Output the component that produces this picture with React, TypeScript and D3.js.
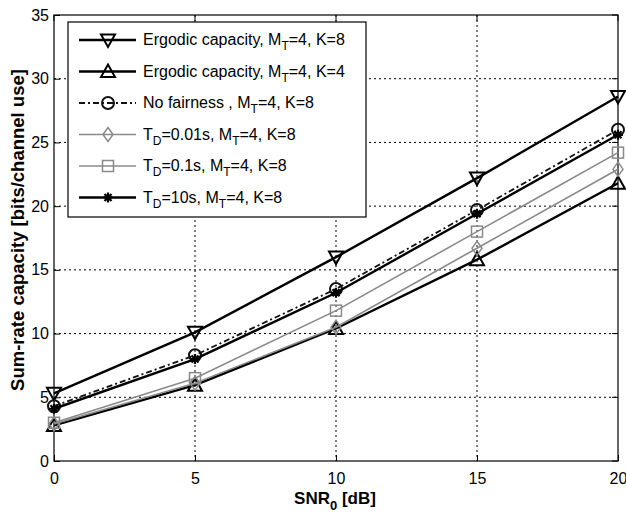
import React, { useEffect, useRef } from 'react';
import * as d3 from 'd3';

const snr = [0, 5, 10, 15, 20];
const ergodicK8 = [5.3, 10.1, 16.0, 22.2, 28.6];
const ergodicK4 = [2.8, 5.95, 10.4, 15.8, 21.8];
const noFairness = [4.3, 8.3, 13.5, 19.7, 26.0];
const td001 = [2.9, 6.1, 10.5, 16.7, 22.9];
const td01 = [3.0, 6.5, 11.8, 18.0, 24.2];
const td10 = [4.1, 8.0, 13.2, 19.4, 25.6];

const xTicks = [0, 5, 10, 15, 20];
const yTicks = [0, 5, 10, 15, 20, 25, 30, 35];

type Series = {
  name: string;
  sub?: string;
  rest: string;
  values: number[];
  color: string;
  width: number;
  dash: string | null;
  marker: string;
};

const series: Series[] = [
  { name: 'Ergodic capacity, M', sub: 'T', rest: '=4, K=8', values: ergodicK8, color: '#000', width: 2.4, dash: null, marker: 'down' },
  { name: 'Ergodic capacity, M', sub: 'T', rest: '=4, K=4', values: ergodicK4, color: '#000', width: 2.4, dash: null, marker: 'up' },
  { name: 'No fairness , M', sub: 'T', rest: '=4, K=8', values: noFairness, color: '#111', width: 1.8, dash: '6,3,2,3', marker: 'circle' },
  { name: 'T', sub: 'D', rest: '=0.01s, M|T|=4, K=8', values: td001, color: '#8a8a8a', width: 1.6, dash: null, marker: 'diamond' },
  { name: 'T', sub: 'D', rest: '=0.1s, M|T|=4, K=8', values: td01, color: '#8a8a8a', width: 1.6, dash: null, marker: 'square' },
  { name: 'T', sub: 'D', rest: '=10s, M|T|=4, K=8', values: td10, color: '#000', width: 2.4, dash: null, marker: 'star' },
];

function drawMarker(g: any, kind: string, x: number, y: number, color: string) {
  const s = 7;
  if (kind === 'down') {
    g.append('path').attr('d', `M${x - s},${y - s * 0.8}L${x + s},${y - s * 0.8}L${x},${y + s}Z`)
      .attr('fill', 'none').attr('stroke', color).attr('stroke-width', 2);
  } else if (kind === 'up') {
    g.append('path').attr('d', `M${x - s},${y + s * 0.8}L${x + s},${y + s * 0.8}L${x},${y - s}Z`)
      .attr('fill', 'none').attr('stroke', color).attr('stroke-width', 2);
  } else if (kind === 'circle') {
    g.append('circle').attr('cx', x).attr('cy', y).attr('r', 6)
      .attr('fill', 'none').attr('stroke', color).attr('stroke-width', 2);
  } else if (kind === 'diamond') {
    g.append('path').attr('d', `M${x},${y - s}L${x + 5},${y}L${x},${y + s}L${x - 5},${y}Z`)
      .attr('fill', 'none').attr('stroke', color).attr('stroke-width', 1.5);
  } else if (kind === 'square') {
    g.append('rect').attr('x', x - 5.5).attr('y', y - 5.5).attr('width', 11).attr('height', 11)
      .attr('fill', 'none').attr('stroke', color).attr('stroke-width', 1.5);
  } else if (kind === 'star') {
    const r = 5;
    const p = d3.path();
    p.moveTo(x - r, y); p.lineTo(x + r, y);
    p.moveTo(x, y - r); p.lineTo(x, y + r);
    p.moveTo(x - r * 0.7, y - r * 0.7); p.lineTo(x + r * 0.7, y + r * 0.7);
    p.moveTo(x - r * 0.7, y + r * 0.7); p.lineTo(x + r * 0.7, y - r * 0.7);
    g.append('path').attr('d', p.toString()).attr('stroke', color).attr('stroke-width', 2.2).attr('fill', 'none');
  }
}

function Chart({ width = 626, height = 513 }) {
  const ref = useRef<SVGSVGElement>(null);

  useEffect(() => {
    const svg = d3.select(ref.current);
    svg.selectAll('*').remove();

    const margin = { top: 15, right: 8, bottom: 52, left: 54 };
    const w = width - margin.left - margin.right;
    const h = height - margin.top - margin.bottom;

    const x = d3.scaleLinear().domain([0, 20]).range([0, w]);
    const y = d3.scaleLinear().domain([0, 35]).range([h, 0]);

    svg.append('rect').attr('width', width).attr('height', height).attr('fill', '#fff');

    const g = svg.append('g').attr('transform', `translate(${margin.left},${margin.top})`);
    const font = 'Helvetica, Arial, "Liberation Sans", sans-serif';

    // grid
    g.selectAll('.gx').data(xTicks.slice(1, -1)).enter().append('line')
      .attr('x1', d => x(d)).attr('x2', d => x(d)).attr('y1', 0).attr('y2', h)
      .attr('stroke', '#000').attr('stroke-width', 1).attr('stroke-dasharray', '2,3');
    g.selectAll('.gy').data(yTicks.slice(1, -1)).enter().append('line')
      .attr('x1', 0).attr('x2', w).attr('y1', d => y(d)).attr('y2', d => y(d))
      .attr('stroke', '#000').attr('stroke-width', 1).attr('stroke-dasharray', '2,3');

    // axes box
    g.append('rect').attr('width', w).attr('height', h).attr('fill', 'none').attr('stroke', '#000').attr('stroke-width', 1.2);

    const xa = g.append('g').attr('transform', `translate(0,${h})`)
      .call(d3.axisBottom(x).tickValues(xTicks).tickSizeInner(-6).tickSizeOuter(0).tickPadding(12));
    const ya = g.append('g')
      .call(d3.axisLeft(y).tickValues(yTicks).tickSizeInner(-6).tickSizeOuter(0).tickPadding(5));
    [xa, ya].forEach(a => {
      a.select('.domain').remove();
      a.selectAll('text').attr('font-family', font).attr('font-size', 16).attr('fill', '#000');
    });
    // right/top ticks
    g.selectAll('.ty').data(yTicks).enter().append('line')
      .attr('x1', w).attr('x2', w - 6).attr('y1', d => y(d)).attr('y2', d => y(d)).attr('stroke', '#000');
    g.selectAll('.tx').data(xTicks).enter().append('line')
      .attr('x1', d => x(d)).attr('x2', d => x(d)).attr('y1', 0).attr('y2', 6).attr('stroke', '#000');

    // series
    const line = d3.line<number>().x((_, i) => x(snr[i])).y(d => y(d));
    series.forEach(s => {
      const p = g.append('path').datum(s.values).attr('d', line)
        .attr('fill', 'none').attr('stroke', s.color).attr('stroke-width', s.width);
      if (s.dash) p.attr('stroke-dasharray', s.dash);
      s.values.forEach((v, i) => drawMarker(g, s.marker, x(snr[i]), y(v), s.color));
    });

    // legend
    const lg = svg.append('g');
    lg.append('rect').attr('x', 68).attr('y', 22).attr('width', 298).attr('height', 195)
      .attr('fill', '#fff').attr('stroke', '#000').attr('stroke-width', 1.2);
    series.forEach((s, i) => {
      const cy = 40 + i * 31.5;
      const l = lg.append('line').attr('x1', 79).attr('x2', 136).attr('y1', cy).attr('y2', cy)
        .attr('stroke', s.color).attr('stroke-width', s.width);
      if (s.dash) l.attr('stroke-dasharray', s.dash);
      drawMarker(lg, s.marker, 108, cy, s.color);
      const t = lg.append('text').attr('x', 143).attr('y', cy + 5)
        .attr('font-family', font).attr('font-size', 16).attr('fill', '#000');
      t.append('tspan').text(s.name);
      t.append('tspan').attr('font-size', 12).attr('dy', 5).text(s.sub || '');
      const parts = s.rest.split('|');
      t.append('tspan').attr('dy', -5).text(parts[0]);
      if (parts.length > 1) {
        t.append('tspan').attr('font-size', 12).attr('dy', 5).text(parts[1]);
        t.append('tspan').attr('dy', -5).text(parts[2]);
      }
    });

    // axis labels
    const xl = svg.append('text').attr('x', 335).attr('y', 504).attr('text-anchor', 'middle')
      .attr('font-family', font).attr('font-size', 17).attr('font-weight', 'bold');
    xl.append('tspan').text('SNR');
    xl.append('tspan').attr('font-size', 13).attr('dy', 6).text('0');
    xl.append('tspan').attr('dy', -6).text(' [dB]');

    svg.append('text').attr('text-anchor', 'middle')
      .attr('transform', `translate(24,230) rotate(-90)`)
      .attr('font-family', font).attr('font-size', 18.5).attr('font-weight', 'bold')
      .text('Sum-rate capacity [bits/channel use]');
  }, [width, height]);

  return <svg ref={ref} width={width} height={height} style={{ position: 'absolute', left: 0, top: 0 }}></svg>;
}

export default function App() {
  return <Chart />;
}
